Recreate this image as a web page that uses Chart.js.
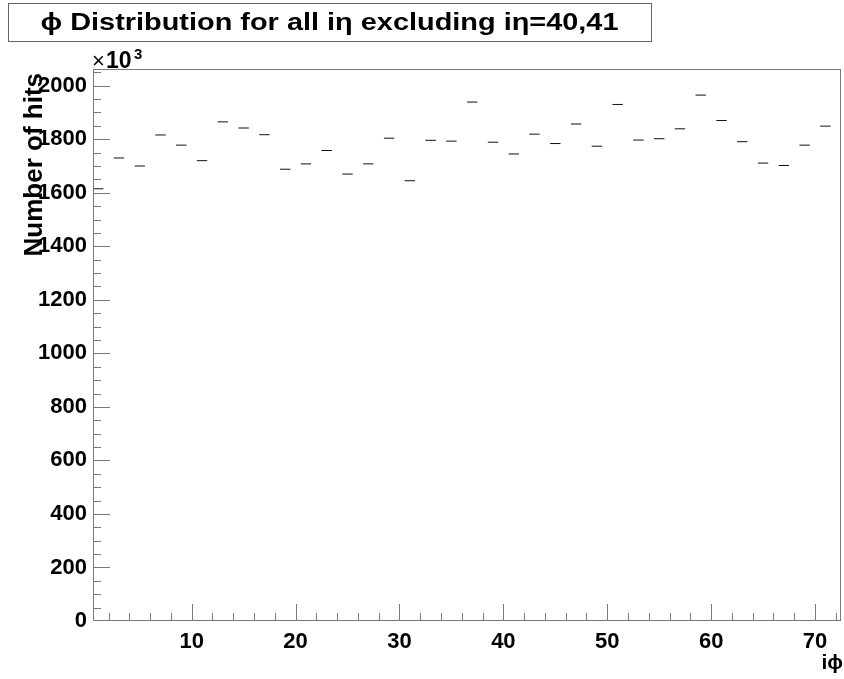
<!DOCTYPE html>
<html>
<head>
<meta charset="utf-8">
<script src="https://cdn.jsdelivr.net/npm/chart.js@4"></script>
<style>
  body { margin: 0; background: #fff; }
  canvas { display: block; }
</style>
</head>
<body>
<canvas id="phiChart" width="844" height="679"></canvas>
<script>
// iphi bins that have entries (odd values only)
const iphiBins = [1, 3, 5, 7, 9, 11, 13, 15, 17, 19, 21, 23, 25, 27, 29, 31, 33, 35,
                  37, 39, 41, 43, 45, 47, 49, 51, 53, 55, 57, 59, 61, 63, 65, 67, 69, 71];
// number of hits in units of 10^3
const hitsK = [1615, 1730, 1700, 1816, 1778, 1720, 1865, 1842, 1817, 1688, 1708, 1758,
               1670, 1708, 1804, 1645, 1796, 1793, 1939, 1789, 1745, 1819, 1784, 1857,
               1774, 1930, 1797, 1802, 1839, 1965, 1870, 1791, 1711, 1702, 1778, 1849];
const xTickLabels = [10, 20, 30, 40, 50, 60, 70];
const yTickLabels = [0, 200, 400, 600, 800, 1000, 1200, 1400, 1600, 1800, 2000];

const titleText = "\u03d5 Distribution for all i\u03b7 excluding i\u03b7=40,41";
const FONT = '"Liberation Sans", Arial, sans-serif';
const FRAME = '#7a7a7a';

// frame, inward ticks and the ROOT-like texts
const rootStyle = {
    id: 'rootStyle',
    afterDraw(chart) {
        const ctx = chart.ctx;
        const a = chart.chartArea;
        const xs = chart.scales.x, ys = chart.scales.y;
        ctx.save();
        ctx.strokeStyle = FRAME;
        ctx.lineWidth = 1;
        ctx.strokeRect(a.left + 0.5, a.top + 0.5, a.right - a.left - 1, a.bottom - a.top - 1);

        ctx.beginPath();
        // x ticks: major every 10, minor every 2
        for (let v = 2; v <= 72; v += 2) {
            const px = Math.round(xs.getPixelForValue(v)) + 0.5;
            const len = (v % 10 === 0) ? 17 : 8;
            ctx.moveTo(px, a.bottom);
            ctx.lineTo(px, a.bottom - len);
        }
        // y ticks: major every 200, minor every 50
        for (let v = 50; v <= 2050; v += 50) {
            const py = Math.round(ys.getPixelForValue(v)) + 0.5;
            const len = (v % 200 === 0) ? 17 : 8;
            ctx.moveTo(a.left, py);
            ctx.lineTo(a.left + len, py);
        }
        ctx.stroke();

        // title box
        ctx.fillStyle = '#fff';
        ctx.fillRect(8, 3, 643, 38);
        ctx.strokeStyle = '#666';
        ctx.strokeRect(8.5, 3.5, 643, 38);
        ctx.fillStyle = '#000';
        ctx.font = 'bold 23px ' + FONT;
        ctx.textAlign = 'center';
        ctx.textBaseline = 'alphabetic';
        const tw = ctx.measureText(titleText).width;
        ctx.save();
        ctx.translate(329.5, 30);
        ctx.scale(578 / tw, 1);
        ctx.fillText(titleText, 0, 0);
        ctx.restore();

        // x10^3 multiplier
        ctx.textAlign = 'left';
        ctx.font = '22px ' + FONT;
        ctx.fillText('\u00d7', 92, 68);
        ctx.font = 'bold 23px ' + FONT;
        ctx.fillText('10', 106, 68);
        ctx.font = 'bold 15px ' + FONT;
        ctx.fillText('3', 134, 59);

        // axis titles
        ctx.font = 'bold 21px ' + FONT;
        ctx.textAlign = 'right';
        ctx.fillText('i\u03d5', 843, 669);

        ctx.font = 'bold 26px ' + FONT;
        ctx.save();
        ctx.translate(42, 73);
        ctx.rotate(-Math.PI / 2);
        ctx.textAlign = 'right';
        ctx.fillText('Number of hits', 0, 0);
        ctx.restore();
        ctx.restore();
    }
};

new Chart(document.getElementById('phiChart'), {
    type: 'scatter',
    data: {
        datasets: [{
            data: iphiBins.map((x, i) => ({ x: x, y: hitsK[i] })),
            pointStyle: 'line',
            pointRadius: 5.2,
            pointHoverRadius: 5.2,
            borderColor: '#111',
            backgroundColor: '#111',
            borderWidth: 1
        }]
    },
    options: {
        responsive: false,
        animation: false,
        devicePixelRatio: 1,
        layout: { autoPadding: false, padding: { top: 69, right: 3, left: 0, bottom: 0 } },
        plugins: { legend: { display: false }, tooltip: { enabled: false } },
        scales: {
            x: {
                type: 'linear',
                min: 0.5,
                max: 72.5,
                afterFit: (s) => { s.height = 58; s.paddingLeft = 0; s.paddingRight = 0; },
                afterBuildTicks: (s) => { s.ticks = xTickLabels.map(v => ({ value: v })); },
                grid: { display: false, drawTicks: false },
                border: { display: false },
                ticks: {
                    color: '#000',
                    padding: 8,
                    maxRotation: 0,
                    autoSkip: false,
                    callback: (v) => String(v),
                    font: { family: FONT, size: 22, weight: 'bold' }
                }
            },
            y: {
                min: 0,
                max: 2062.5,
                afterFit: (s) => { s.width = 93; s.paddingTop = 0; s.paddingBottom = 0; },
                afterBuildTicks: (s) => { s.ticks = yTickLabels.map(v => ({ value: v })); },
                grid: { display: false, drawTicks: false },
                border: { display: false },
                ticks: {
                    color: '#000',
                    padding: 6,
                    autoSkip: false,
                    callback: (v) => String(v),
                    font: { family: FONT, size: 22, weight: 'bold' }
                }
            }
        }
    },
    plugins: [rootStyle]
});
</script>
</body>
</html>
